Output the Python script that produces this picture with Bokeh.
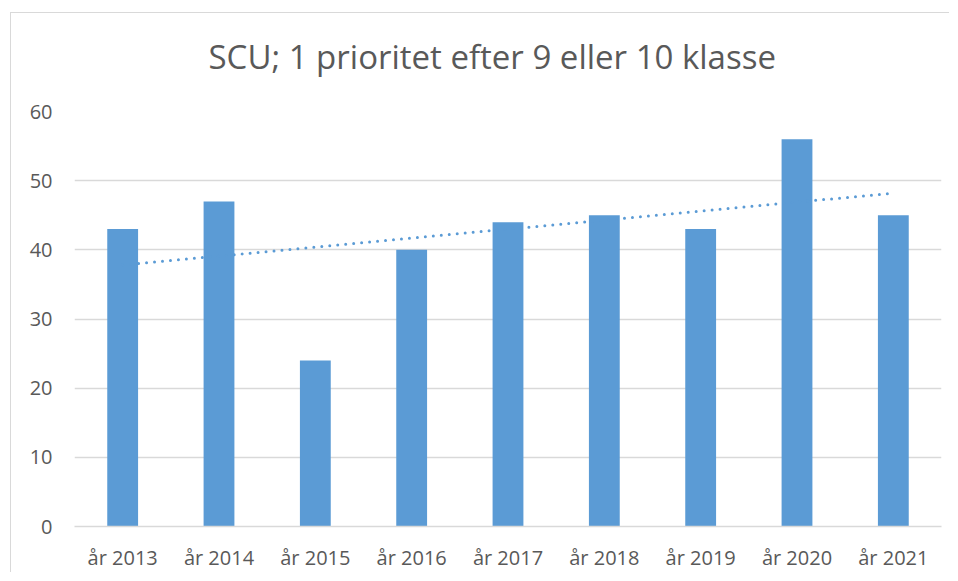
import numpy as np
from bokeh.plotting import figure
from bokeh.models import Range1d, FactorRange, ColumnDataSource, Title
from bokeh.embed import file_html
from bokeh.resources import INLINE

# data
categories = ["år 2013", "år 2014", "år 2015", "år 2016", "år 2017",
              "år 2018", "år 2019", "år 2020", "år 2021"]
values = [43, 47, 24, 40, 44, 45, 43, 56, 45]
y_ticks = [0, 10, 20, 30, 40, 50, 60]
title_text = "SCU; 1 prioritet efter 9 eller 10 klasse"

FONT = "Open Sans"
TXT = "#595959"
BLUE = "#5b9bd5"
GRID = "#d9d9d9"

p = figure(x_range=FactorRange(*categories), y_range=Range1d(0, 60),
           width=939, height=560, output_backend="svg", toolbar_location=None,
           min_border_left=63, min_border_right=9, min_border_top=98,
           min_border_bottom=46)
p.styles = {"border-top": "1px solid #d9d9d9", "border-left": "1px solid #d9d9d9",
            "margin-left": "10px", "margin-top": "12px"}

# spacer between title and plot area, then the title itself
spacer = Title(text=" ", text_font_size="1px", standoff=20)
p.add_layout(spacer, "above")
main_title = Title(text=title_text, align="left", offset=134, standoff=20,
                   text_font=FONT, text_font_size="33px", text_font_style="normal",
                   text_color=TXT)
p.add_layout(main_title, "above")

p.outline_line_color = None
p.background_fill_color = "white"

src = ColumnDataSource(dict(cat=categories, val=values))
p.vbar(x="cat", top="val", width=0.32, source=src, fill_color=BLUE, line_color=None)

# linear trendline (least squares over the data)
idx = np.arange(len(values))
slope, intercept = np.polyfit(idx, values, 1)
trend = [slope * i + intercept for i in idx]
p.line(x=categories, y=trend, line_color=BLUE, line_width=3,
       line_dash="0 8", line_cap="round")

p.yaxis.ticker = y_ticks
p.ygrid.grid_line_color = GRID
p.ygrid.grid_line_width = 1.3
p.xgrid.grid_line_color = None

for ax in (p.xaxis, p.yaxis):
    ax.axis_line_color = None
    ax.major_tick_line_color = None
    ax.minor_tick_line_color = None
    ax.major_label_text_font = FONT
    ax.major_label_text_font_size = "20px"
    ax.major_label_text_color = TXT
p.xaxis.axis_line_color = GRID
p.xaxis.axis_line_width = 1.3
p.yaxis.major_label_standoff = 16
p.xaxis.major_label_standoff = 11

open("out.html", "w").write(file_html(p, INLINE))
